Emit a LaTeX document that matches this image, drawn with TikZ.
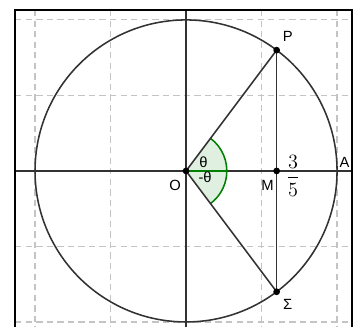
\documentclass[tikz,border=0pt]{standalone}
\usepackage{amsmath}
\usepackage{fontspec}
\setsansfont{Liberation Sans}
\usepackage{xcolor}
\definecolor{gridgray}{RGB}{196,196,196}
\definecolor{curvegray}{RGB}{50,50,50}
\definecolor{anglegreen}{RGB}{0,128,0}
\usetikzlibrary{calc,positioning}

\begin{document}
\begin{tikzpicture}[x=3.775cm, y=3.775cm, font=\sffamily\fontsize{10.5}{12}\selectfont]
    \useasboundingbox (-1.232,-1.033) rectangle (1.152,1.132);
    \clip (-1.232,-1.033) rectangle (1.152,1.132);

    % Dashed grid
    \foreach \t in {-1,-0.5,0.5,1} {
        \draw[gridgray, line width=0.8pt, dash pattern=on 4.5pt off 3pt] (\t,1.066) -- (\t,-1.2);
        \draw[gridgray, line width=0.8pt, dash pattern=on 4.5pt off 3pt] (-1.132,\t) -- (1.099,\t);
    }

    % Axes
    \draw[curvegray, line width=1.1pt] (0,1.066) -- (0,-1.2);
    \draw[curvegray, line width=1.1pt] (-1.132,0) -- (1.099,0);

    % Unit circle
    \draw[curvegray, line width=1.1pt] (0,0) circle (1);

    % Points
    \coordinate (O) at (0,0);
    \coordinate (P) at (0.6,0.8);
    \coordinate (M) at (0.6,0);
    \coordinate (S) at (0.6,-0.8);
    \coordinate (A) at (1,0);

    % Angle sector
    \fill[anglegreen!12] (O) -- (53.13:0.27) arc (53.13:-53.13:0.27) -- cycle;
    \draw[anglegreen, line width=1.1pt] (53.13:0.27) arc (53.13:-53.13:0.27);
    \draw[anglegreen, line width=1.1pt] (O) -- (0.27,0);

    % Segments
    \draw[curvegray, line width=1.1pt] (P) -- (O) -- (S);
    \draw[curvegray, line width=1.1pt] (P) -- (S);

    \foreach \p in {O,P,M,S} {
        \fill[black] (\p) circle (2.4pt);
    }

    % Labels
    \node (labO) at ($(O)+(-0.073,-0.099)$) {O};
    \node (labP) at ($(P)+(0.073,0.093)$) {P};
    \node (labM) at ($(M)+(-0.06,-0.099)$) {M};
    \node (labS) at ($(S)+(0.073,-0.086)$) {Σ};
    \node (labA) at ($(A)+(0.05,0.056)$) {A};
    \node (labth) at ($(O)+(0.116,0.06)$) {θ};
    \node (labmth) at ($(O)+(0.126,-0.04)$) {-θ};
    \node (frac) at ($(M)+(0.109,-0.033)$) {\fontsize{13.5}{16}\selectfont$\dfrac{3}{5}$};

    % Frame
    \draw[black, line width=1.4pt] (-1.132,-1.2) rectangle (1.099,1.066);
\end{tikzpicture}
\end{document}
